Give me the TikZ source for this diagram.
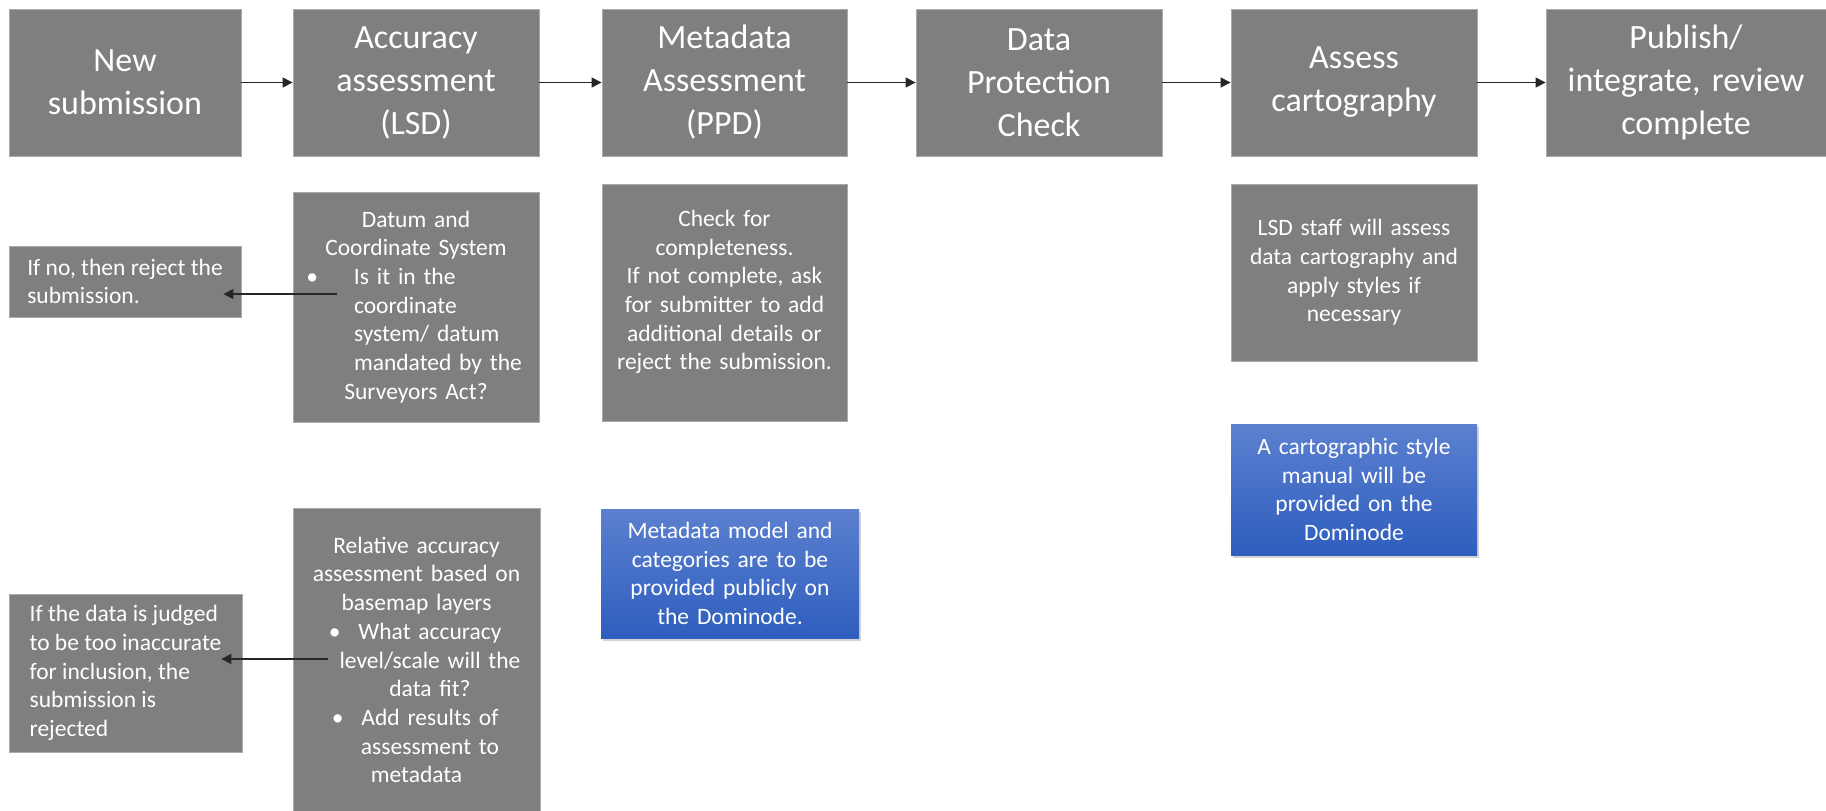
\documentclass[tikz,border=0pt]{standalone}
\usepackage{fontspec}
\setmainfont{Carlito}
\usetikzlibrary{arrows.meta,shadows}
\definecolor{boxgray}{RGB}{127,127,127}
\definecolor{boxedge}{RGB}{170,170,170}
\definecolor{bluetop}{RGB}{92,128,207}
\definecolor{bluebot}{RGB}{46,94,190}

\begin{document}
\begin{tikzpicture}[x=1pt,y=-1pt]
	\tikzstyle{stage} = [rectangle,fill=boxgray,draw=boxedge,line width=.8pt,text=white,align=center,inner xsep=8pt,inner ysep=0pt,minimum height=147pt,font=\fontsize{34}{43}\selectfont]
	\tikzstyle{note} = [rectangle,fill=boxgray,draw=boxedge,line width=.8pt,text=white,align=center,inner xsep=8pt,inner ysep=0pt,font=\fontsize{23.5}{28.7}\selectfont]
	\tikzstyle{reject} = [note,align=left]
	\tikzstyle{info} = [note,draw=none,top color=bluetop,bottom color=bluebot,drop shadow={opacity=.35,shadow xshift=1.5pt,shadow yshift=-3pt}]
	\tikzstyle{arr} = [-{Triangle[length=10pt,width=10pt]},line width=1.2pt,black!85]
	\useasboundingbox (0,0) rectangle (1826,811);
	% main stages
	\node[stage,text width=216pt] (new) at (125,82.5) {New\\submission};
	\node[stage,text width=230pt] (acc) at (416,82.5) {Accuracy\\assessment\\(LSD)};
	\node[stage,text width=229pt] (meta) at (724.5,82.5) {Metadata\\Assessment\\(PPD)};
	\node[stage,text width=230pt] (dpc) at (1039,82.5) {Data\\Protection\\Check};
	\node[stage,text width=230pt] (cart) at (1354,82.5) {Assess\\cartography};
	\node[stage,text width=264pt] (pub) at (1686,82.5) {Publish/\\integrate, review\\complete};
	% checks under each stage
	\node[note,text width=230pt,minimum height=230pt] (datum) at (416,307) {Datum and\\Coordinate System\par
		\raggedright\leftskip=53pt\relax
		\leavevmode\llap{\textbullet\hspace{36pt}}Is it in the\\coordinate\\system/ datum\\mandated by the\\Surveyors Act?};
	\node[note,text width=231pt,minimum height=304pt] (relative) at (416.5,660) {Relative accuracy\\assessment based on\\basemap layers\par
		\leftskip=27pt plus 1fil\rightskip=0pt plus 1fil\parfillskip=0pt\relax
		\leavevmode\llap{\textbullet\hspace{18pt}}What accuracy\\level/scale will the\\data fit?\par
		\leavevmode\llap{\textbullet\hspace{18pt}}Add results of\\assessment to\\metadata};
	\node[note,text width=229pt,minimum height=237pt] (check) at (724.5,302.5) {Check for\\completeness.\\If not complete, ask\\for submitter to add\\additional details or\\reject the submission.\rule[-25pt]{0pt}{25pt}};
	\node[note,text width=230pt,minimum height=177pt] (lsd) at (1354,272.5) {LSD staff will assess\\data cartography and\\apply styles if\\necessary};
	% rejections
	\node[reject,minimum width=232pt,minimum height=71pt] (noreject) at (125,281.5) {If no, then reject the\\submission.};
	\node[reject,minimum width=233pt,minimum height=158pt] (inaccurate) at (125.5,673) {If the data is judged\\to be too inaccurate\\for inclusion, the\\submission is\\rejected};
	% resources
	\node[info,text width=242pt,minimum height=129pt] (metamodel) at (730,573.5) {Metadata model and\\categories are to be\\provided publicly on\\the Dominode.};
	\node[info,text width=230pt,minimum height=131pt] (stylemanual) at (1354,489.5) {A cartographic style\\manual will be\\provided on the\\Dominode};
	% flow between stages
	\foreach \a/\b in {new/acc,acc/meta,meta/dpc,dpc/cart,cart/pub}
		\draw[arr] (\a) -- (\b);
	% arrows to rejections
	\draw[arr] ([xshift=44pt,yshift=13pt]datum.west) -- ([xshift=-18pt,yshift=-12.5pt]noreject.east);
	\draw[arr] ([xshift=35pt,yshift=1pt]relative.west) -- ([xshift=-21pt,yshift=14pt]inaccurate.east);
\end{tikzpicture}
\end{document}
